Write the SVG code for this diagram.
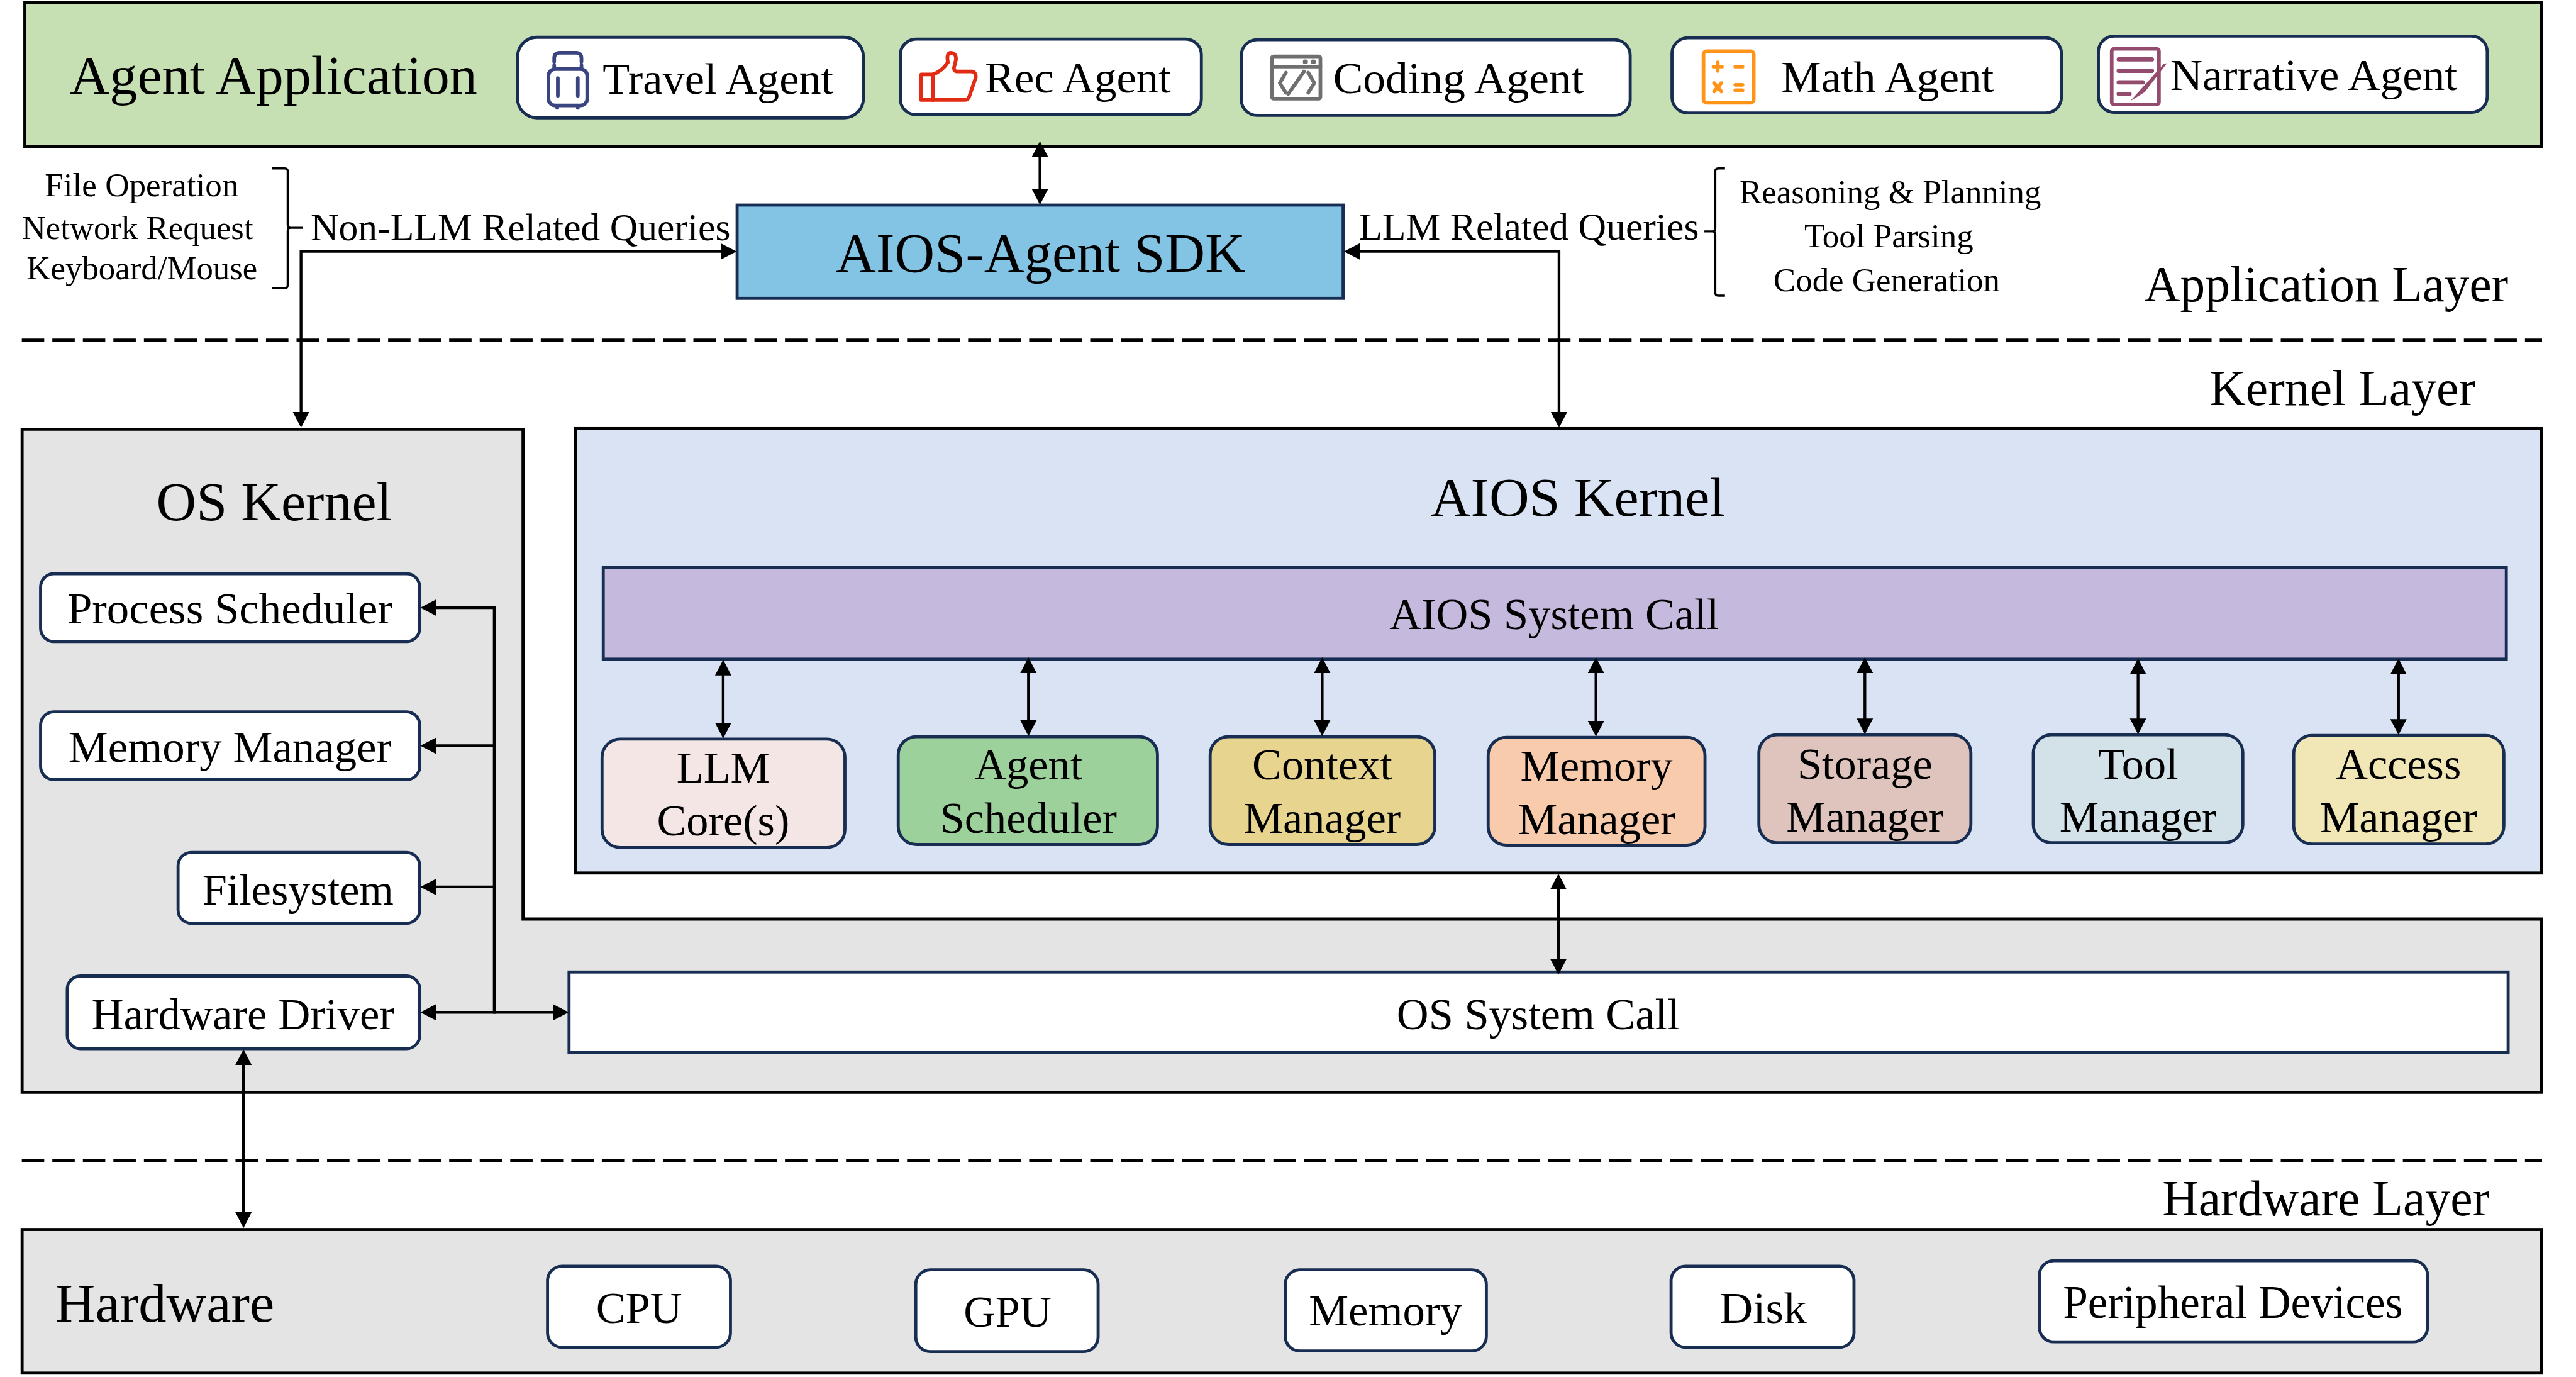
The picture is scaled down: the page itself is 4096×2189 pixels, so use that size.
<svg xmlns="http://www.w3.org/2000/svg" width="4096" height="2189" viewBox="0 0 4096 2189">
<defs>
<marker id="ah" markerUnits="userSpaceOnUse" markerWidth="30" markerHeight="30" refX="17" refY="15" orient="auto-start-reverse"><path d="M1 1.5L27 15L1 28.5Z" fill="#000"/></marker>
</defs>
<style>
text{font-family:"Liberation Serif","Times New Roman",serif;fill:#000}
.blk{stroke:#000;stroke-width:5}
.nv{stroke:#182D52;stroke-width:5}
.wh{fill:#fff}
.f55{font-size:55px}.f64{font-size:64px}.f73{font-size:73px}.f76{font-size:76px}.f84{font-size:84px}.f91{font-size:91px}.f92{font-size:92px}
.c{stroke:#000;stroke-width:4.5;fill:none}
.a{marker-start:url(#ah);marker-end:url(#ah)}
.e{marker-end:url(#ah)}
.ic{fill:none;stroke-width:6;stroke-linecap:round;stroke-linejoin:round}
</style>
<rect width="4096" height="2189" fill="#fff"/>
<g transform="scale(0.96307)">
<g id="app-panel"><rect x="41" y="4.500" width="4155" height="237" fill="#C6E0B4" class="blk"/>
<text x="115" y="155" class="f91" textLength="673" lengthAdjust="spacingAndGlyphs">Agent Application</text></g>
<g id="travel-agent"><rect x="854.500" y="61.500" width="571" height="133" rx="32" class="wh nv"/>
<g class="ic" stroke="#3A4480"><path d="M915 102V96Q915 87 924 87H951Q960 87 960 96V102M915 108V114M960 108V114"/><rect x="905.500" y="114" width="64" height="60" rx="11"/><path d="M921 129V158M954 129V158M920 176V178M954 176V178"/></g>
<text x="995" y="155" class="f73" textLength="381" lengthAdjust="spacingAndGlyphs">Travel Agent</text></g>
<g id="rec-agent"><rect x="1486.500" y="64.500" width="497" height="125" rx="26" class="wh nv"/>
<g class="ic" stroke="#E32A12"><path d="M1540 123Q1555 118 1565 103Q1562 87 1570 87Q1580 88 1578 100L1575 112Q1575 118 1580 118H1605Q1612 120 1611 128L1600 160Q1598 165 1592 165H1521V123Z"/><path d="M1540 123V165"/></g>
<text x="1626" y="153" class="f73" textLength="307" lengthAdjust="spacingAndGlyphs">Rec Agent</text></g>
<g id="coding-agent"><rect x="2049.500" y="65.500" width="642" height="125" rx="26" class="wh nv"/>
<g class="ic" stroke="#6F6F6F"><rect x="2100" y="93" width="80" height="70" rx="3"/><path d="M2100 110H2180M2123 120L2113 137L2123 153M2153 118L2127 155M2160 120L2170 137L2160 153"/><path d="M2155 102h.5M2168 102h.5" stroke-width="8"/></g>
<text x="2201" y="154" class="f73" textLength="414" lengthAdjust="spacingAndGlyphs">Coding Agent</text></g>
<g id="math-agent"><rect x="2760.500" y="62.500" width="643" height="124" rx="26" class="wh nv"/>
<g class="ic" stroke="#FF9419"><rect x="2812.500" y="84.500" width="83" height="85" rx="5"/><path d="M2829 110H2843M2836 103V117M2865 110H2877M2830 137L2842 151M2842 137L2830 151M2865 140H2877M2865 149H2877"/></g>
<text x="2941" y="152" class="f73" textLength="351" lengthAdjust="spacingAndGlyphs">Math Agent</text></g>
<g id="narrative-agent"><rect x="3464.500" y="59.500" width="642" height="126" rx="26" class="wh nv"/>
<g class="ic" stroke="#934C6E"><rect x="3486.500" y="80.500" width="78" height="92" rx="4"/><path d="M3498 98H3553M3498 117H3553M3498 136H3538M3498 155H3516" stroke-width="7"/></g>
<path d="M3517 167L3572 106L3578 104L3541 152Z" fill="#934C6E"/>
<text x="3583" y="148" class="f73" textLength="474" lengthAdjust="spacingAndGlyphs">Narrative Agent</text></g>
<g id="non-llm-list">
<text x="74" y="324" class="f55" textLength="320" lengthAdjust="spacingAndGlyphs">File Operation</text>
<text x="36" y="395" class="f55" textLength="382" lengthAdjust="spacingAndGlyphs">Network Request</text>
<text x="44" y="461" class="f55" textLength="381" lengthAdjust="spacingAndGlyphs">Keyboard/Mouse</text>
<path d="M449 278H470Q475 278 475 283V371Q475 376 480 376H500M480 376Q475 376 475 381V471Q475 476 470 476H449" fill="none" stroke="#000" stroke-width="3.500"/></g>
<text x="513" y="397" class="f64" textLength="693" lengthAdjust="spacingAndGlyphs" id="non-llm-label">Non-LLM Related Queries</text>
<g id="sdk"><rect x="1217" y="338.500" width="1000.500" height="154" fill="#83C3E4" class="nv"/>
<text x="1380" y="449" class="f92" textLength="676" lengthAdjust="spacingAndGlyphs">AIOS-Agent SDK</text></g>
<text x="2243" y="396" class="f64" textLength="562" lengthAdjust="spacingAndGlyphs" id="llm-label">LLM Related Queries</text>
<g id="llm-list">
<path d="M2848 278H2837Q2832 278 2832 283V377Q2832 382 2827 382H2814M2827 382Q2832 382 2832 387V483Q2832 488 2837 488H2848" fill="none" stroke="#000" stroke-width="3.500"/>
<text x="2872" y="335" class="f55" textLength="498" lengthAdjust="spacingAndGlyphs">Reasoning &amp; Planning</text>
<text x="2979" y="408" class="f55" textLength="279" lengthAdjust="spacingAndGlyphs">Tool Parsing</text>
<text x="2928" y="481" class="f55" textLength="374" lengthAdjust="spacingAndGlyphs">Code Generation</text></g>
<text id="application-layer" x="3540" y="497" class="f84" textLength="601" lengthAdjust="spacingAndGlyphs">Application Layer</text>
<text id="kernel-layer" x="3648" y="669" class="f84" textLength="439" lengthAdjust="spacingAndGlyphs">Kernel Layer</text>
<text id="hardware-layer" x="3570" y="2006" class="f84" textLength="540" lengthAdjust="spacingAndGlyphs">Hardware Layer</text>
<g id="layer-dividers" fill="none" stroke="#000" stroke-width="5" stroke-dasharray="37 13.4"><path d="M36 561.500H4197"/><path d="M36 1916H4197"/></g>
<g id="os-kernel"><path d="M36.500 708.500H863.500V1517H4196V1803H36.500Z" fill="#E4E4E4" class="blk"/>
<text x="258" y="859" class="f91" textLength="389" lengthAdjust="spacingAndGlyphs">OS Kernel</text></g>
<g id="process-scheduler"><rect x="67" y="947" width="626" height="112" rx="22" class="wh nv"/><text x="111" y="1029" class="f73" textLength="537" lengthAdjust="spacingAndGlyphs">Process Scheduler</text></g>
<g id="os-memory-manager"><rect x="67" y="1175" width="626" height="112" rx="22" class="wh nv"/><text x="113" y="1257" class="f73" textLength="533" lengthAdjust="spacingAndGlyphs">Memory Manager</text></g>
<g id="filesystem"><rect x="294" y="1407" width="399" height="117" rx="22" class="wh nv"/><text x="334" y="1493" class="f73" textLength="316" lengthAdjust="spacingAndGlyphs">Filesystem</text></g>
<g id="hardware-driver"><rect x="111" y="1611" width="582" height="120" rx="22" class="wh nv"/><text x="151" y="1699" class="f73" textLength="500" lengthAdjust="spacingAndGlyphs">Hardware Driver</text></g>
<g id="aios-kernel"><rect x="950.500" y="707.500" width="3245.500" height="733.500" fill="#DAE3F3" class="blk"/>
<text x="2362" y="851" class="f91" textLength="486" lengthAdjust="spacingAndGlyphs">AIOS Kernel</text></g>
<g id="aios-system-call"><rect x="996" y="937" width="3142" height="151" fill="#C5B9DE" class="nv"/><text x="2294" y="1038" class="f73" textLength="544" lengthAdjust="spacingAndGlyphs">AIOS System Call</text></g>
<g id="llm-core"><rect x="994" y="1220" width="401" height="179" rx="30" fill="#F4E6E4" class="nv"/><text x="1194" y="1292" class="f73" text-anchor="middle">LLM</text><text x="1194" y="1379" class="f73" text-anchor="middle">Core(s)</text></g>
<g id="agent-scheduler"><rect x="1483" y="1216" width="428" height="178" rx="30" fill="#9DD19B" class="nv"/><text x="1698" y="1287" class="f73" text-anchor="middle">Agent</text><text x="1698" y="1375" class="f73" text-anchor="middle">Scheduler</text></g>
<g id="context-manager"><rect x="1998" y="1216" width="371" height="178" rx="30" fill="#E6D48F" class="nv"/><text x="2183" y="1287" class="f73" text-anchor="middle">Context</text><text x="2183" y="1375" class="f73" text-anchor="middle">Manager</text></g>
<g id="memory-manager"><rect x="2457" y="1217" width="358" height="178" rx="30" fill="#F8CBAD" class="nv"/><text x="2636" y="1289" class="f73" text-anchor="middle">Memory</text><text x="2636" y="1377" class="f73" text-anchor="middle">Manager</text></g>
<g id="storage-manager"><rect x="2904" y="1213" width="350" height="178" rx="30" fill="#DFC4BE" class="nv"/><text x="3079" y="1285" class="f73" text-anchor="middle">Storage</text><text x="3079" y="1373" class="f73" text-anchor="middle">Manager</text></g>
<g id="tool-manager"><rect x="3357" y="1213" width="346" height="178" rx="30" fill="#D3E2E8" class="nv"/><text x="3530" y="1285" class="f73" text-anchor="middle">Tool</text><text x="3530" y="1373" class="f73" text-anchor="middle">Manager</text></g>
<g id="access-manager"><rect x="3787" y="1214" width="347" height="179" rx="30" fill="#F0E6B6" class="nv"/><text x="3960" y="1286" class="f73" text-anchor="middle">Access</text><text x="3960" y="1374" class="f73" text-anchor="middle">Manager</text></g>
<g id="os-system-call"><rect x="939.500" y="1604.500" width="3201.500" height="133" class="wh nv"/><text x="2306" y="1699" class="f73" textLength="467" lengthAdjust="spacingAndGlyphs">OS System Call</text></g>
<g id="hardware"><rect x="36.500" y="2029.500" width="4159.500" height="237" fill="#E4E4E4" class="blk"/><text x="91" y="2182" class="f91" textLength="362" lengthAdjust="spacingAndGlyphs">Hardware</text></g>
<g id="cpu"><rect x="904" y="2090" width="302" height="134" rx="24" class="wh nv"/><text x="984" y="2184" class="f73" textLength="142" lengthAdjust="spacingAndGlyphs">CPU</text></g>
<g id="gpu"><rect x="1512" y="2096" width="301" height="135" rx="24" class="wh nv"/><text x="1591" y="2190" class="f73" textLength="145" lengthAdjust="spacingAndGlyphs">GPU</text></g>
<g id="memory"><rect x="2122" y="2096" width="332" height="134" rx="24" class="wh nv"/><text x="2161" y="2188" class="f73" textLength="253" lengthAdjust="spacingAndGlyphs">Memory</text></g>
<g id="disk"><rect x="2759" y="2090" width="302" height="134" rx="24" class="wh nv"/><text x="2839" y="2184" class="f73" textLength="144" lengthAdjust="spacingAndGlyphs">Disk</text></g>
<g id="peripheral-devices"><rect x="3367" y="2081" width="641" height="134" rx="24" class="wh nv"/><text x="3406" y="2175" class="f76" textLength="561" lengthAdjust="spacingAndGlyphs">Peripheral Devices</text></g>
<g id="connectors">
<path class="c a" d="M1717 243V328"/>
<path class="c a" d="M1206 415H497V696"/>
<path class="c a" d="M2229 415H2574V696"/>
<path class="c a" d="M1194 1099V1209"/>
<path class="c a" d="M1698 1095V1205"/>
<path class="c a" d="M2183 1095V1205"/>
<path class="c a" d="M2635 1095V1206"/>
<path class="c a" d="M3079 1095V1202"/>
<path class="c a" d="M3530 1097V1202"/>
<path class="c a" d="M3960 1097V1203"/>
<path class="c a" d="M2573 1452V1599"/>
<path class="c e" d="M816 1003H704"/>
<path class="c e" d="M816 1231H704"/>
<path class="c e" d="M816 1464H704"/>
<path class="c a" d="M704 1671H929"/>
<path class="c" d="M816 1003V1671" stroke-linecap="square"/>
<path class="c a" d="M402 1742V2017"/>
</g>
</g>
</svg>
